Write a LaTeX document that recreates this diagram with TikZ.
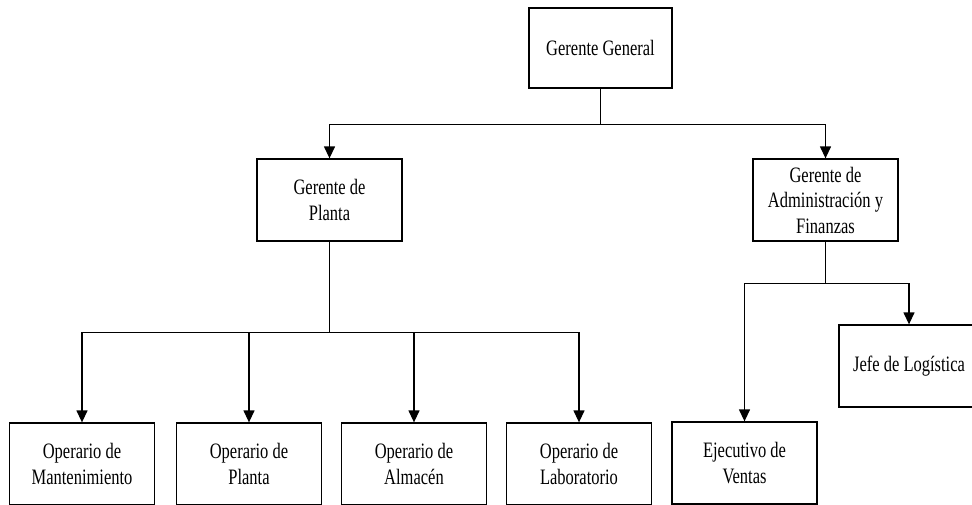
\documentclass[tikz,border=0pt]{standalone}
\usepackage{fontspec}
\newfontfamily\cargofont[FakeStretch=0.75]{Liberation Serif}
\usetikzlibrary{arrows.meta}
\tikzset{
  cargo/.style={draw,line width=1.3pt,fill=white,minimum width=145pt,minimum height=82pt,
    inner sep=0pt,align=center,font=\cargofont\fontsize{22}{25.5}\selectfont},
  linea/.style={line width=1.3pt},
  flecha/.style={line width=1.3pt,-{Triangle[length=12pt,width=11pt]}}
}
\begin{document}
\begin{tikzpicture}[x=1pt,y=-1pt]
	\useasboundingbox (0,0) rectangle (972,504);
	\fill[white] (0,0) rectangle (972,504);
	\clip (0,0) rectangle (972,504);
	% gerencias
	\node[cargo,minimum width=143pt,minimum height=80pt] (gg) at (600.5,48) {Gerente General};
	\node[cargo] (gp) at (329.5,200) {Gerente de\\Planta};
	\node[cargo] (ga) at (825.5,200) {Gerente de\\Administración y\\Finanzas};
	% operarios
	\node[cargo] (om) at (82,464) {Operario de\\Mantenimiento};
	\node[cargo] (op) at (249,464) {Operario de\\Planta};
	\node[cargo] (oa) at (414,464) {Operario de\\Almacén};
	\node[cargo] (ol) at (579,464) {Operario de\\Laboratorio};
	\node[cargo] (ev) at (744.5,463) {Ejecutivo de\\Ventas};
	\node[cargo,minimum width=140pt] (jl) at (909,366) {Jefe de Logística};
	% conectores
	\draw[linea] (gg.south) -- ++(0,36) coordinate (t1);
	\draw[flecha] (t1) -| (gp.north);
	\draw[flecha] (t1) -| (ga.north);
	\draw[linea] (gp.south) -- ++(0,91) coordinate (t2);
	\foreach \n in {om,op,oa,ol}
		\draw[flecha] (t2) -| (\n.north);
	\draw[linea] (ga.south) -- ++(0,42) coordinate (t3);
	\draw[flecha] (t3) -| (ev.north);
	\draw[flecha] (t3) -| (jl.north);
\end{tikzpicture}
\end{document}
